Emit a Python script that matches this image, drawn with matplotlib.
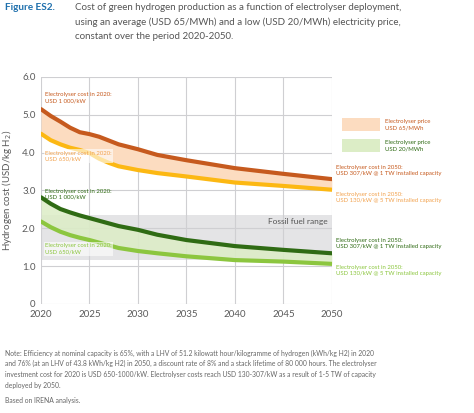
import matplotlib.pyplot as plt
import matplotlib.patches as mpatches

plt.rcParams['font.family'] = ['Lato', 'DejaVu Sans']

years = [2020, 2021, 2022, 2023, 2024, 2025, 2026, 2027, 2028, 2030, 2032, 2035, 2040, 2045, 2050]
avg_1000 = [5.15, 4.97, 4.82, 4.66, 4.54, 4.49, 4.42, 4.32, 4.22, 4.09, 3.94, 3.80, 3.59, 3.44, 3.30]
avg_650 = [4.50, 4.33, 4.22, 4.13, 4.07, 3.99, 3.84, 3.73, 3.64, 3.54, 3.46, 3.37, 3.21, 3.12, 3.02]
low_1000 = [2.82, 2.65, 2.51, 2.42, 2.34, 2.27, 2.20, 2.13, 2.06, 1.96, 1.83, 1.69, 1.53, 1.43, 1.34]
low_650 = [2.18, 2.03, 1.91, 1.82, 1.75, 1.69, 1.62, 1.55, 1.48, 1.40, 1.34, 1.26, 1.16, 1.12, 1.06]
fossil_range = (1.16, 2.34)

x_ticks = [2020, 2025, 2030, 2035, 2040, 2045, 2050]
y_ticks = [0, 1, 2, 3, 4, 5, 6]
y_tick_labels = ['0', '1.0', '2.0', '3.0', '4.0', '5.0', '6.0']

c_dark_orange = '#c65a1e'
c_yellow = '#fcb813'
c_light_orange = '#f2a24e'
c_dark_green = '#2f6b14'
c_light_green = '#8cc63f'
c_peach = '#fcdcc0'
c_pale_green = '#dcedc6'
grey_text = '#5a5a5a'
small = 4.3

fig = plt.figure(figsize=(4.74, 4.13), dpi=100)
ax = fig.add_axes([0.0865, 0.264, 0.6135, 0.5496])

ax.axhspan(fossil_range[0], fossil_range[1], color='#e4e4e6', zorder=0, lw=0)
ax.fill_between(years, avg_650, avg_1000, color=c_peach, lw=0, zorder=1)
ax.fill_between(years, low_650, low_1000, color=c_pale_green, alpha=0.85, lw=0, zorder=1)
ax.plot(years, avg_1000, color=c_dark_orange, lw=3, solid_capstyle='round',
        solid_joinstyle='round', zorder=3)
ax.plot(years, avg_650, color=c_yellow, lw=3, solid_capstyle='round',
        solid_joinstyle='round', zorder=3)
ax.plot(years, low_1000, color=c_dark_green, lw=3, solid_capstyle='round',
        solid_joinstyle='round', zorder=3)
ax.plot(years, low_650, color=c_light_green, lw=3, solid_capstyle='round',
        solid_joinstyle='round', zorder=3)

ax.set_xlim(2020, 2050)
ax.set_ylim(0, 6)
ax.set_xticks(x_ticks)
ax.set_yticks(y_ticks)
ax.set_yticklabels(y_tick_labels)
ax.grid(True, color='#cfcfd2', lw=0.8, zorder=0.5)
ax.set_axisbelow(True)
for s in ax.spines.values():
    s.set_visible(False)
ax.tick_params(length=0, labelsize=7, colors=grey_text, pad=4)
ax.set_ylabel('Hydrogen cost (USD/kg H$_2$)', fontsize=7, color=grey_text, labelpad=6)

ax.text(2049.6, 2.18, 'Fossil fuel range', fontsize=6, color='#555555',
        ha='right', va='center', zorder=4)

# labels for 2020 costs
box = dict(facecolor='white', alpha=0.6, edgecolor='none', pad=1)
ax.text(2020.4, 5.6, 'Electrolyser cost in 2020:\nUSD 1 000/kW', fontsize=small,
        color=c_dark_orange, va='top', linespacing=1.25, zorder=5)
ax.text(2020.4, 4.05, 'Electrolyser cost in 2020:\nUSD 650/kW', fontsize=small,
        color=c_light_orange, va='top', linespacing=1.25, bbox=box, zorder=5)
ax.text(2020.4, 3.05, 'Electrolyser cost in 2020:\nUSD 1 000/kW', fontsize=small,
        color=c_dark_green, va='top', linespacing=1.25, zorder=5)
ax.text(2020.4, 1.6, 'Electrolyser cost in 2020:\nUSD 650/kW', fontsize=small,
        color=c_light_green, va='top', linespacing=1.25, bbox=box, zorder=5)

# labels for 2050 costs (outside the axes)
right_labels = [
    (165, 'Electrolyser cost in 2050:\nUSD 307/kW @ 1 TW installed capacity', c_dark_orange),
    (192, 'Electrolyser cost in 2050:\nUSD 130/kW @ 5 TW installed capacity', c_light_orange),
    (238, 'Electrolyser cost in 2050:\nUSD 307/kW @ 1 TW installed capacity', c_dark_green),
    (265, 'Electrolyser cost in 2050:\nUSD 130/kW @ 5 TW installed capacity', c_light_green),
]
for ypx, txt, col in right_labels:
    fig.text(336 / 474, 1 - ypx / 413, txt, fontsize=small, color=col, va='top',
             linespacing=1.3)

# legend
fig.patches.append(mpatches.Rectangle((342 / 474, 1 - 131 / 413), 38 / 474, 13 / 413,
                                      transform=fig.transFigure, color=c_peach, lw=0))
fig.patches.append(mpatches.Rectangle((342 / 474, 1 - 152 / 413), 38 / 474, 13 / 413,
                                      transform=fig.transFigure, color=c_pale_green, lw=0))
fig.text(385 / 474, 1 - 124.5 / 413, 'Electrolyser price\nUSD 65/MWh', fontsize=small,
         color=c_dark_orange, va='center', linespacing=1.3)
fig.text(385 / 474, 1 - 145.5 / 413, 'Electrolyser price\nUSD 20/MWh', fontsize=small,
         color=c_dark_green, va='center', linespacing=1.3)

# title
fig.text(5 / 474, 1 - 8 / 413, 'Figure ES2.', fontsize=7.2, color='#1f70ad',
         fontweight='bold', va='center')
title_lines = [
    'Cost of green hydrogen production as a function of electrolyser deployment,',
    'using an average (USD 65/MWh) and a low (USD 20/MWh) electricity price,',
    'constant over the period 2020-2050.',
]
for i, line in enumerate(title_lines):
    fig.text(75 / 474, 1 - (8 + 14.3 * i) / 413, line, fontsize=7, color='#555555',
             va='center')

note_lines = [
    'Note: Efficiency at nominal capacity is 65%, with a LHV of 51.2 kilowatt hour/kilogramme of hydrogen (kWh/kg H2) in 2020',
    'and 76% (at an LHV of 43.8 kWh/kg H2) in 2050, a discount rate of 8% and a stack lifetime of 80 000 hours. The electrolyser',
    'investment cost for 2020 is USD 650-1000/kW. Electrolyser costs reach USD 130-307/kW as a result of 1-5 TW of capacity',
    'deployed by 2050.',
]
for i, line in enumerate(note_lines):
    fig.text(5 / 474, 1 - (353 + 10.8 * i) / 413, line, fontsize=4.9, color='#666666',
             va='center')
fig.text(5 / 474, 1 - 400 / 413, 'Based on IRENA analysis.', fontsize=4.9, color='#666666',
         va='center')

fig.savefig('out.png', dpi=100)
